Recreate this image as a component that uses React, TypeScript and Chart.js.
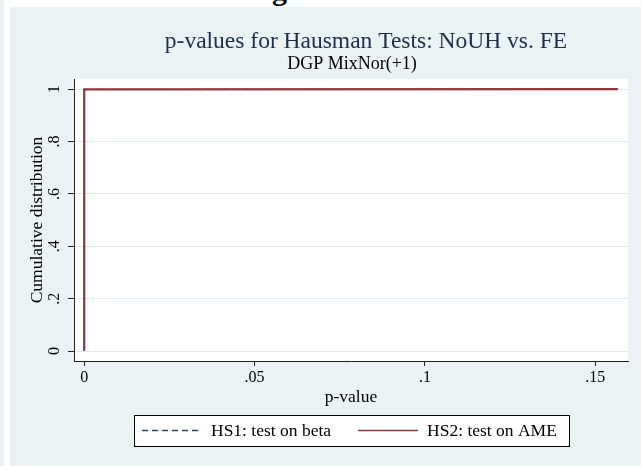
import React, { useEffect, useRef } from "react";
import { Chart, registerables } from "chart.js";

Chart.register(...registerables);

const FONT = '"Liberation Serif", "Times New Roman", serif';
const BG = "#eaf2f3";
const NAVY = "#1a476f";
const MAROON = "#90353b";
const AXIS = "#222222";

const titleText = "p-values for Hausman Tests: NoUH vs. FE";
const subtitleText = "DGP MixNor(+1)";
const xAxisTitle = "p-value";
const yAxisTitle = "Cumulative distribution";
const seriesLabels = ["HS1: test on beta", "HS2: test on AME"];

const hs1PValues = [0, 0, 0.1566];
const hs1Cdf = [0.001, 0.999, 1];
const hs2PValues = [0, 0, 0.1566];
const hs2Cdf = [0.001, 0.999, 1];

const xTicks = [0, 0.05, 0.1, 0.15];
const xTickLabels = ["0", ".05", ".1", ".15"];
const yTicks = [0, 0.2, 0.4, 0.6, 0.8, 1];
const yTickLabels = ["0", ".2", ".4", ".6", ".8", "1"];

const stataPlugin = {
  id: "stataDecor",
  beforeDraw(chart: any) {
    const { ctx, chartArea: a } = chart;
    ctx.save();
    ctx.fillStyle = "#ffffff";
    ctx.fillRect(a.left, a.top, a.right - a.left, a.bottom - a.top);
    ctx.restore();
  },
  afterDraw(chart: any) {
    const { ctx, chartArea: a } = chart;
    const yScale = chart.scales.y;
    const cx = (a.left + a.right) / 2;
    ctx.save();
    ctx.textAlign = "center";
    ctx.textBaseline = "middle";

    // titles
    ctx.fillStyle = "#1e2d50";
    ctx.font = `23.5px ${FONT}`;
    ctx.fillText(titleText, cx + 15, a.top - 37);
    ctx.fillStyle = "#000000";
    ctx.font = `18px ${FONT}`;
    ctx.fillText(subtitleText, cx + 1, a.top - 15);

    // y tick labels (vertical, Stata style)
    ctx.font = `16px ${FONT}`;
    yTicks.forEach((v, i) => {
      const y = yScale.getPixelForValue(v);
      ctx.save();
      ctx.translate(a.left - 19, y);
      ctx.rotate(-Math.PI / 2);
      ctx.fillText(yTickLabels[i], 0, 0);
      ctx.restore();
    });

    // legend box
    ctx.font = `17.5px ${FONT}`;
    const ds = chart.data.datasets;
    const widths = ds.map((d: any) => ctx.measureText(d.label).width);
    const sample = 60, gap = 9, itemGap = 27, padL = 8, padR = 12;
    const total = padL + padR + ds.length * (sample + gap) + widths.reduce((s: number, w: number) => s + w, 0) + itemGap * (ds.length - 1);
    const ly = a.bottom + 69.5;
    const bx = Math.round(cx - total / 2);
    const bh = 31;
    ctx.fillStyle = "#ffffff";
    ctx.fillRect(bx, ly - bh / 2, total, bh);
    ctx.strokeStyle = "#000000";
    ctx.lineWidth = 1;
    ctx.strokeRect(bx + 0.5, Math.round(ly - bh / 2) + 0.5, Math.round(total), bh);
    let x = bx + padL;
    ds.forEach((d: any, i: number) => {
      ctx.save();
      ctx.strokeStyle = d.borderColor;
      ctx.lineWidth = 1.5;
      ctx.setLineDash(d.borderDash || []);
      ctx.beginPath();
      ctx.moveTo(x, ly);
      ctx.lineTo(x + sample, ly);
      ctx.stroke();
      ctx.restore();
      x += sample + gap;
      ctx.fillStyle = "#000000";
      ctx.textAlign = "left";
      ctx.fillText(d.label, x, ly + 1);
      x += widths[i] + itemGap;
    });
    ctx.restore();
  },
};

export default function App() {
  const canvasRef = useRef<HTMLCanvasElement | null>(null);

  useEffect(() => {
    const canvas = canvasRef.current;
    if (!canvas) return;
    const chart = new Chart(canvas, {
      type: "line",
      data: {
        datasets: [
          {
            label: seriesLabels[0],
            data: hs1PValues.map((p, i) => ({ x: p, y: hs1Cdf[i] })),
            borderColor: NAVY,
            borderDash: [6, 4],
            borderWidth: 1.1,
            pointRadius: 0,
            tension: 0,
            order: 2,
          },
          {
            label: seriesLabels[1],
            data: hs2PValues.map((p, i) => ({ x: p, y: hs2Cdf[i] })),
            borderColor: MAROON,
            borderWidth: 2.2,
            pointRadius: 0,
            tension: 0,
            order: 1,
          },
        ],
      },
      options: {
        responsive: false,
        animation: false,
        layout: { padding: { left: 0, right: 13, top: 72, bottom: 55 } },
        plugins: {
          legend: { display: false },
          tooltip: { enabled: false },
          title: { display: false },
        },
        scales: {
          x: {
            type: "linear",
            min: -0.003,
            max: 0.1596,
            afterBuildTicks: (s: any) => {
              s.ticks = xTicks.map((v) => ({ value: v }));
            },
            afterFit: (s: any) => {
              s.height = 50;
            },
            ticks: {
              autoSkip: false,
              maxRotation: 0,
              padding: 2,
              color: "#000000",
              font: { family: FONT, size: 16 },
              callback: (v: any) => {
                const i = xTicks.indexOf(Number(v));
                return i >= 0 ? xTickLabels[i] : "";
              },
            },
            grid: {
              drawOnChartArea: false,
              drawTicks: true,
              tickLength: 5,
              tickColor: AXIS,
              lineWidth: 1,
            },
            border: { display: true, color: AXIS, width: 1 },
            title: {
              display: true,
              text: xAxisTitle,
              color: "#000000",
              font: { family: FONT, size: 17.5 },
              padding: { top: 0, bottom: 3.5 },
            },
          },
          y: {
            type: "linear",
            min: -0.038,
            max: 1.039,
            afterBuildTicks: (s: any) => {
              s.ticks = yTicks.map((v) => ({ value: v }));
            },
            afterFit: (s: any) => {
              s.width = 64;
            },
            ticks: { display: false },
            grid: {
              color: "#e2eaed",
              lineWidth: 1,
              drawTicks: true,
              tickLength: 6,
              tickColor: AXIS,
            },
            border: { display: true, color: AXIS, width: 1 },
            title: {
              display: true,
              text: yAxisTitle,
              color: "#000000",
              font: { family: FONT, size: 17.5 },
              padding: { top: 16.5, bottom: 0 },
            },
          },
        },
      },
      plugins: [stataPlugin],
    } as any);
    return () => chart.destroy();
  }, []);

  return (
    <div
      style={{
        position: "fixed",
        left: 0,
        top: 0,
        width: 641,
        height: 466,
        background: "#ffffff",
        overflow: "hidden",
      }}
    >
      <div style={{ position: "absolute", left: 0, top: 0, width: 4, height: 466, background: BG }} />
      <div
        style={{
          position: "absolute",
          left: 272,
          top: -25,
          fontFamily: FONT,
          fontWeight: "bold",
          fontSize: 30,
          lineHeight: "30px",
          color: "#000",
        }}
      >
        g
      </div>
      <div style={{ position: "absolute", left: 10, top: 7, width: 631, height: 459, background: BG }}>
        <canvas ref={canvasRef} width={631} height={459} style={{ display: "block" }} />
      </div>
    </div>
  );
}
